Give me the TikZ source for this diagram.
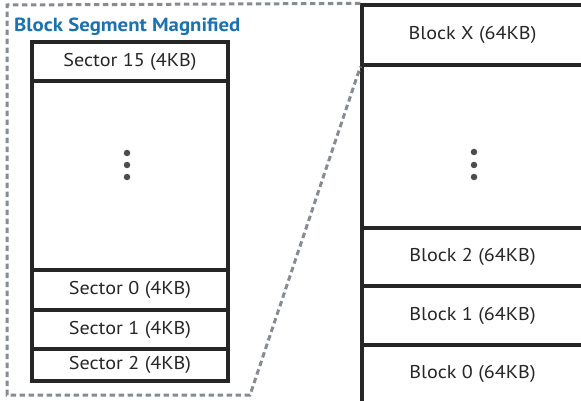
\documentclass[tikz,border=0pt]{standalone}
\usepackage{fontspec}
\setmainfont{PT Sans}
\newcommand\wtxt[1]{\scalebox{1.09}[1]{#1}}
\begin{document}
\begin{tikzpicture}[x=1pt,y=-1pt,
  cell/.style={draw=black!85, line width=3.2pt, minimum width=#1, inner sep=0pt, text=black!85, font=\fontsize{18.5}{20}\selectfont, anchor=center},
  cell/.default=196,
  dashline/.style={line width=3pt, dash pattern=on 5.5pt off 3.5pt},
  dotc/.style={circle, fill=black!70, inner sep=0pt, minimum size=6.5pt}]
\useasboundingbox (0,0) rectangle (581,401);
\clip (0,0) rectangle (581,401);
\definecolor{dashgray}{HTML}{868C92}
\definecolor{titleblue}{HTML}{1B72AE}
% dashed magnify outline
\coordinate (tl) at (7,5);
\coordinate (bl) at (7,395);
\coordinate (br) at (250,395);
% left column
\node[cell, minimum height=39pt] (s15) at (130,61.5) {\wtxt{Sector 15 (4KB)}};
\node[cell, minimum height=189pt] (sgap) at (130,175.5) {};
\node[cell, minimum height=40pt] (s0) at (130,290) {\wtxt{Sector 0 (4KB)}};
\node[cell, minimum height=39pt] (s1) at (130,329.5) {\wtxt{Sector 1 (4KB)}};
\node[cell, minimum height=32pt] (s2) at (130,365) {\wtxt{Sector 2 (4KB)}};
\node[dotc] (ld1) at (127,153) {};
\node[dotc] (ld2) at (127,165) {};
\node[dotc] (ld3) at (127,177) {};
% right column
\node[cell=221, minimum height=60pt] (bx) at (472.5,35) {\wtxt{Block X (64KB)}};
\node[cell=221, minimum height=163pt] (bgap) at (472.5,146.5) {};
\node[cell=221, minimum height=58pt] (b2) at (472.5,257) {\wtxt{Block 2 (64KB)}};
\node[cell=221, minimum height=59pt] (b1) at (472.5,315.5) {\wtxt{Block 1 (64KB)}};
\node[cell=221, minimum height=58pt] (b0) at (472.5,374) {\wtxt{Block 0 (64KB)}};
\node[dotc] (rd1) at (474,152) {};
\node[dotc] (rd2) at (474,165) {};
\node[dotc] (rd3) at (474,177) {};
% title
\node[anchor=base west, inner sep=0pt, text=titleblue, font=\bfseries\fontsize{19}{21}\selectfont] (title) at (14,31.5) {\scalebox{1.095}[1]{Block Segment Magnified}};
\draw[dashline, draw=dashgray] (bx.north west) -- (tl) -- (bl) -- (br) -- (bx.south west);
\end{tikzpicture}
\end{document}
